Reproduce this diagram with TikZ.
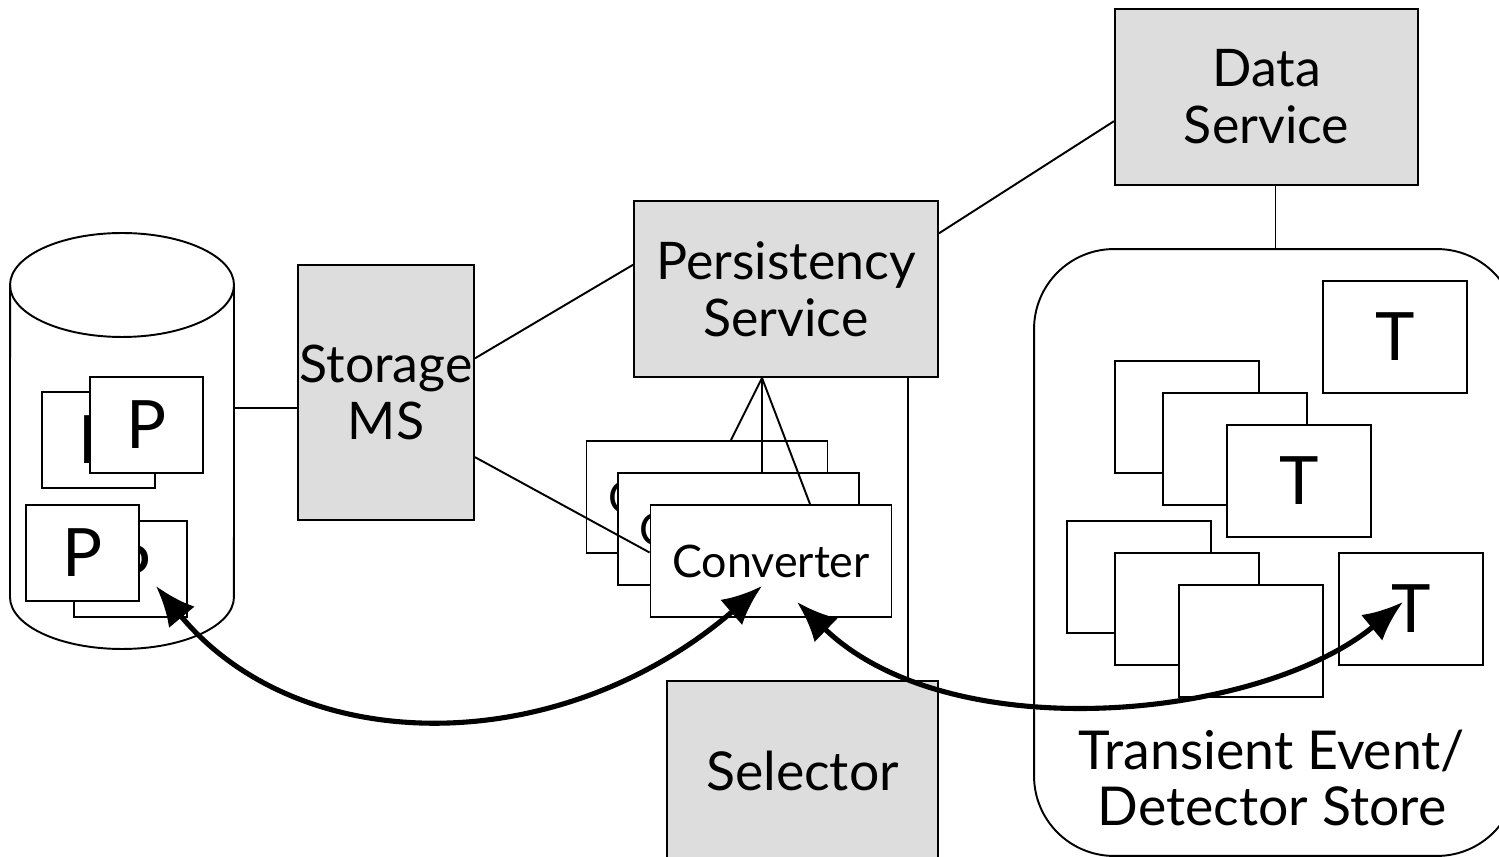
\documentclass[tikz,border=0pt]{standalone}
\usepackage{fontspec}
\setmainfont{Lato}
\usetikzlibrary{arrows.meta,calc}
\definecolor{boxgray}{RGB}{221,221,221}
\newcommand\lblfont{\fontsize{29.5}{32.3}\selectfont}
\newcommand\widefont{\fontsize{30.5}{32.3}\selectfont}
\newcommand\letterfont{\fontsize{38}{40}\selectfont}
\newcommand\convfont{\fontsize{25.5}{28}\selectfont}
\tikzset{
  gbox/.style 2 args={draw, fill=boxgray, minimum width=#1, text width=#1,
    minimum height=#2, inner sep=0pt, align=center, font=\lblfont},
  pbox/.style={draw, fill=white, minimum width=2.26cm, minimum height=1.92cm,
    inner sep=0pt, font=\letterfont},
  tbox/.style={draw, fill=white, minimum width=2.88cm, minimum height=2.24cm,
    inner sep=0pt, font=\letterfont},
  cbox/.style={draw, fill=white, minimum width=4.82cm, text width=4.82cm,
    minimum height=2.24cm, inner sep=0pt, align=center, font=\convfont},
  bigarrow/.style={line width=2.9pt,
    {Latex[length=23pt,width=19pt]}-{Latex[length=23pt,width=19pt]}}
}
\begin{document}
\begin{tikzpicture}[x=0.02cm, y=-0.02cm, line width=1.1pt]
\clip (0,0) rectangle (1499,857);
\fill[white] (0,0) rectangle (1499,857);

% database cylinder
\draw[fill=white] (10,597) arc[start angle=180, end angle=360, x radius=2.24cm, y radius=1.04cm]
  -- (234,285) arc[start angle=0, end angle=180, x radius=2.24cm, y radius=1.04cm] -- cycle;
\draw (10,285) arc[start angle=180, end angle=360, x radius=2.24cm, y radius=1.04cm];
\coordinate (db) at (234,408);

% persistent objects
\node[pbox] (pb1) at (98.5,440) {P};
\node[pbox] (pf1) at (146.5,425) {P};
\node[pbox] (pb2) at (130.5,569) {P};
\node[pbox] (pf2) at (82.5,553) {P};

% services
\node[gbox={3.52cm}{5.1cm}] (storage) at (386,392.5) {Storage\\MS};
\node[gbox={6.08cm}{3.52cm}] (persist) at (786,289) {Persistency\\Service};
\node[gbox={6.06cm}{3.52cm}] (data) at (1266.5,97) {Data\\Service};
\node[gbox={5.42cm}{3.58cm}, font=\widefont] (selector) at (802.5,770.5) {Selector};

% transient store
\node[draw, rounded corners=1.6cm, minimum width=9.66cm, minimum height=12.14cm,
  inner sep=0pt] (store) at (1275.5,552.5) {};
\node[font=\widefont, align=center, inner sep=0pt] (storelbl) at (1272,778)
  {Transient Event/\\Detector Store};

% converters
\node[cbox] (c1) at (707,497) {Converter};
\node[cbox] (c2) at (738.5,529) {Converter};
\node[cbox] (c3) at (771,561) {Converter};

% transient objects
\node[tbox] (t0) at (1395,337) {T};
\node[tbox] (a1) at (1187,417) {};
\node[tbox] (a2) at (1235,449) {};
\node[tbox] (a3) at (1299,481) {T};
\node[tbox] (b1) at (1139,577) {};
\node[tbox] (b2) at (1187,609) {};
\node[tbox] (b3) at (1251,641) {};
\node[tbox] (t4) at (1411,609) {T};

% connections
\draw (db) -- (db -| storage.west);
\draw (storage.21.4) -- (persist.171.4);
\draw (persist.20.2) -- (data.189.4);
\draw (store.north) -- (store.north |- data.south);
\draw (storage.-36.7) -- (c3.176.2);
\coordinate (hub) at ($(persist.south)+(-24,0)$);
\draw (hub) -- ($(c1.north)+(24,0)$);
\draw (hub) -- ($(c2.north)+(23.5,0)$);
\draw (hub) -- ($(c3.north)+(39,0)$);
\coordinate (vtop) at ($(persist.south east)+(-31,0)$);
\draw (vtop) -- (vtop |- selector.north);

% conversion arrows
\coordinate (a1s) at ($(pb2.center)+(25.5,17)$);
\coordinate (a1e) at ($(c3.center)+(-9,25)$);
\draw[bigarrow] (a1s) .. controls +(144,174) and +(-202,174) .. (a1e);
\coordinate (a2s) at ($(c3.center)+(26,41)$);
\coordinate (a2e) at ($(t4.center)+(-8,-7)$);
\draw[bigarrow] (a2s) .. controls +(153,148) and +(-143,118) .. (a2e);
\end{tikzpicture}
\end{document}
